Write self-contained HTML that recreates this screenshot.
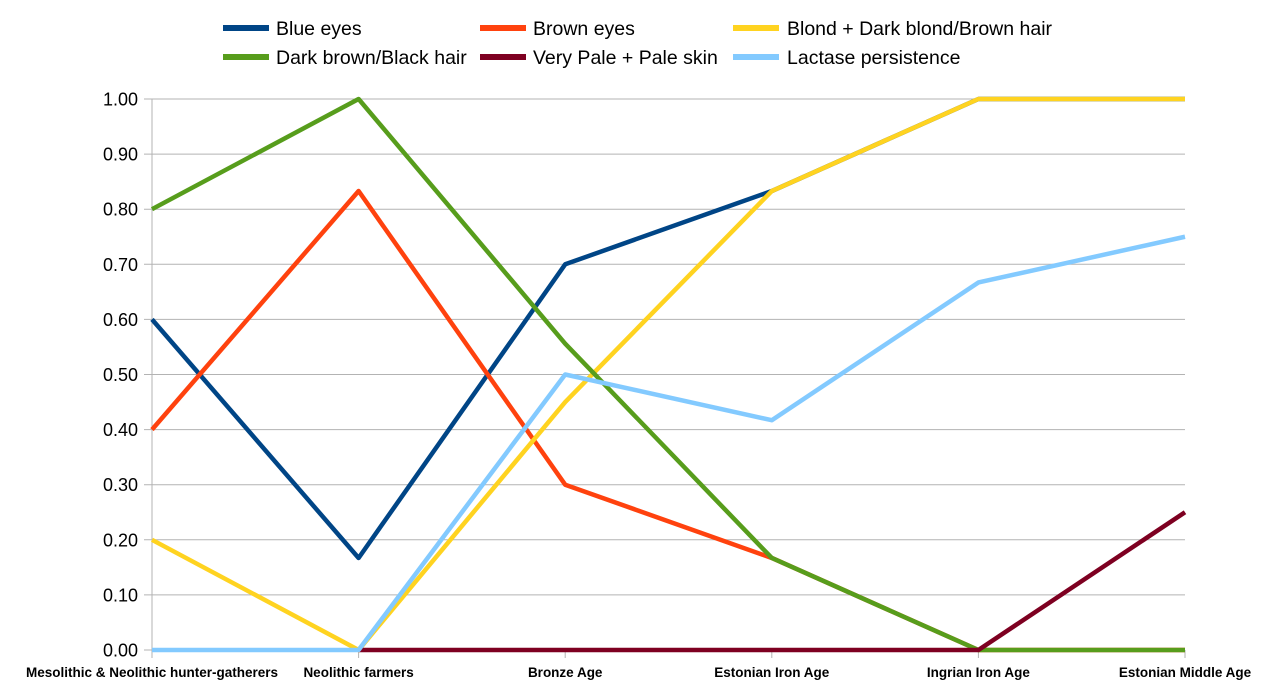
<!DOCTYPE html>
<html><head><meta charset="utf-8"><style>
body{margin:0;background:#fff;font-family:"Liberation Sans",sans-serif}
</style></head><body>
<svg id="chart" width="1276" height="694" xmlns="http://www.w3.org/2000/svg" font-family="Liberation Sans, sans-serif"></svg>
<script>
const categories=["Mesolithic & Neolithic hunter-gatherers","Neolithic farmers","Bronze Age","Estonian Iron Age","Ingrian Iron Age","Estonian Middle Age"];
const yTicks=["0.00","0.10","0.20","0.30","0.40","0.50","0.60","0.70","0.80","0.90","1.00"];
const seriesNames=["Blue eyes","Brown eyes","Blond + Dark blond/Brown hair","Dark brown/Black hair","Very Pale + Pale skin","Lactase persistence"];
const seriesColors=["#004586","#ff420e","#ffd320","#579d1c","#7e0021","#83caff"];
const blueEyes=[0.6,0.167,0.7,0.833,1,1];
const brownEyes=[0.4,0.833,0.3,0.167,0,0];
const blondHair=[0.2,0,0.45,0.833,1,1];
const darkHair=[0.8,1,0.556,0.167,0,0];
const paleSkin=[null,0,0,0,0,0.25];
const lactase=[0,0,0.5,0.417,0.667,0.75];
const allSeries=[blueEyes,brownEyes,blondHair,darkHair,paleSkin,lactase];
const svg=document.getElementById('chart');
const NS="http://www.w3.org/2000/svg";
const x0=152,x1=1185,y0=650,y1=99;
const xs=i=>x0+i*(x1-x0)/(categories.length-1);
const ys=v=>y0-v*(y0-y1);
function mk(t,a){const e=document.createElementNS(NS,t);for(const k in a)e.setAttribute(k,a[k]);svg.appendChild(e);return e;}
yTicks.forEach((t,i)=>{const v=parseFloat(t),y=ys(v);
 const g=mk('line',{x1:144,x2:x1,y1:y,y2:y,stroke:'#b3b3b3','stroke-width':1});
 
 
 const l=mk('text',{x:138,y:y+6.5,'text-anchor':'end','font-size':18,fill:'#000'});l.textContent=t;
 
 
});
const ax=mk('line',{x1:x0,x2:x0,y1:y1,y2:y0+8,stroke:'#b3b3b3','stroke-width':1});


categories.forEach((c,i)=>{const x=xs(i);
 const tk=mk('line',{x1:x,x2:x,y1:y0,y2:y0+8,stroke:'#b3b3b3','stroke-width':1});
 
 
 const l=mk('text',{x:x,y:677,'text-anchor':'middle','font-size':13.5,'font-weight':'bold',fill:'#000'});l.textContent=c;
 
 
});
allSeries.forEach((s,si)=>{let d='';let started=false;
 s.forEach((v,i)=>{if(v===null){started=false;return;}d+=(started?'L':'M')+xs(i)+','+ys(v)+' ';started=true;});
 const p=mk('path',{d:d,fill:'none',stroke:seriesColors[si],'stroke-width':4.5,'stroke-linejoin':'round'});
 
 
});
const legPos=[[223,28],[480,28],[733,28],[223,57],[480,57],[733,57]];
seriesNames.forEach((n,i)=>{const [lx,ly]=legPos[i];
 const ln=mk('line',{x1:lx,x2:lx+46,y1:ly,y2:ly,stroke:seriesColors[i],'stroke-width':6});
 
 
 const t=mk('text',{x:lx+(i%3==2?54:53),y:ly+7,'font-size':19.5,fill:'#000'});t.textContent=n;
 
 
});
</script>
</body></html>
